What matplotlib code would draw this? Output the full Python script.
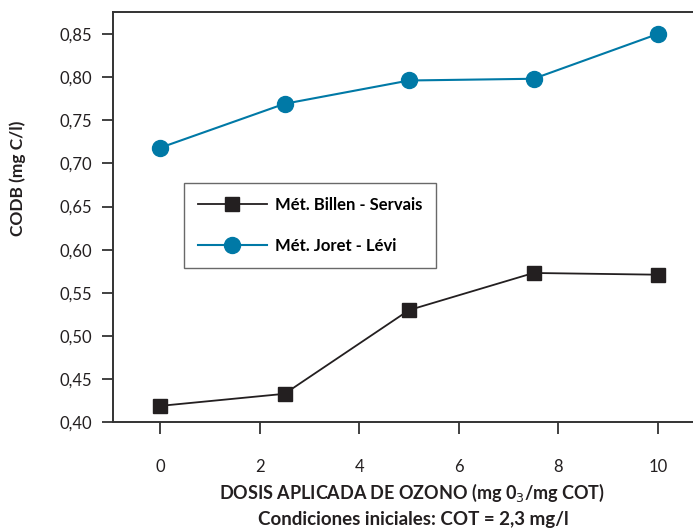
import matplotlib
matplotlib.use('Agg')
import matplotlib.pyplot as plt

plt.rcParams['font.family']=['Lato','DejaVu Sans']

# ozone dose (mg O3/mg COT)
dose=[0,2.5,5,7.5,10]
billen_servais=[0.419,0.433,0.530,0.573,0.571]
joret_levi=[0.718,0.769,0.796,0.798,0.850]
labels=['Mét. Billen - Servais','Mét. Joret - Lévi']
xticks=[0,2,4,6,8,10]
yticks=[0.40,0.45,0.50,0.55,0.60,0.65,0.70,0.75,0.80,0.85]

dark='#231f20'
blue='#0079a6'

fig=plt.figure(figsize=(6.93,5.28),dpi=100)
ax=fig.add_axes([112.5/693,1-422.3/528,1-112.5/693+0.01,(422.3-12.3)/528])
ax.plot(dose,billen_servais,color=dark,lw=1.3,marker='s',ms=10,mfc=dark,mec=dark,label=labels[0])
ax.plot(dose,joret_levi,color=blue,lw=1.5,marker='o',ms=11.5,mfc=blue,mec=blue,label=labels[1])
ax.set_xlim(-0.954,10.84)
ax.set_ylim(0.40,0.875)
ax.set_xticks(xticks)
ax.set_xticklabels([str(v) for v in xticks])
ax.set_yticks(yticks)
ax.set_yticklabels([f'{v:.2f}'.replace('.',',') for v in yticks])
for sp in ['left','top','bottom']:
  ax.spines[sp].set_color('#333333')
  ax.spines[sp].set_linewidth(1.4)
ax.spines['right'].set_visible(False)
ax.tick_params(axis='y',direction='out',length=8,width=1.3,pad=7,labelsize=12,colors='#333333',labelcolor='#231f20')
ax.tick_params(axis='x',direction='out',length=8.5,width=1.3,pad=18,labelsize=12,colors='#333333',labelcolor='#231f20')

leg=ax.legend(loc='upper left',bbox_to_anchor=(184/693,1-182.7/528),bbox_transform=fig.transFigure,
  borderaxespad=0,fancybox=False,frameon=True,edgecolor='#444444',handlelength=4.1,handletextpad=0.5,
  labelspacing=1.5,borderpad=0.85,prop={'weight':'bold','size':12})
leg.get_frame().set_linewidth(1.0)

fig.text(18/693,1-178/528,'CODB (mg C/l)',rotation=90,ha='center',va='center',fontsize=12.5,fontweight='bold',color=dark)
fig.text(412/693,1-493/528,'DOSIS APLICADA DE OZONO (mg 0$_3$/mg COT)',ha='center',va='center',fontsize=13,fontweight='bold',color=dark)
fig.text(413/693,1-519/528,'Condiciones iniciales: COT = 2,3 mg/l',ha='center',va='center',fontsize=13.5,fontweight='bold',color=dark)

fig.savefig('out.png',dpi=100)
